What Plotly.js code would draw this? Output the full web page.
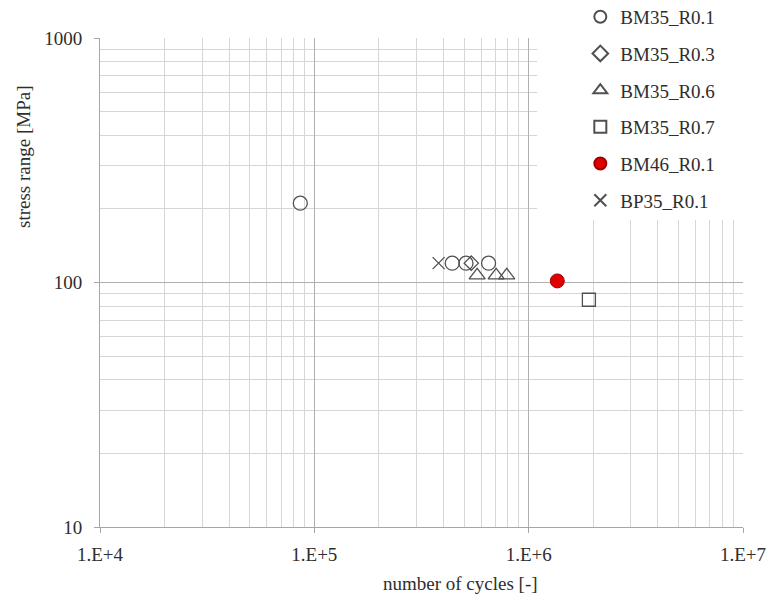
<!DOCTYPE html>
<html>
<head>
<meta charset="utf-8">
<script src="https://cdn.plot.ly/plotly-3.0.1.min.js"></script>
<style>
  html, body { margin: 0; padding: 0; background: #ffffff; }
  #chart { width: 769px; height: 601px; }
</style>
</head>
<body>
<div id="chart"></div>
<script>
// S-N test results: number of cycles to failure vs stress range
const seriesNames = ["BM35_R0.1", "BM35_R0.3", "BM35_R0.6", "BM35_R0.7", "BM46_R0.1", "BP35_R0.1"];

const bm35r01Cycles = [8.6e4, 4.4e5, 5.1e5, 6.5e5];
const bm35r01Stress = [211, 120, 120, 120];

const bm35r03Cycles = [5.4e5];
const bm35r03Stress = [120];

const bm35r06Cycles = [5.75e5, 7.05e5, 7.9e5];
const bm35r06Stress = [107, 107, 107];

const bm35r07Cycles = [1.91e6];
const bm35r07Stress = [85];

const bm46r01Cycles = [1.36e6];
const bm46r01Stress = [101.5];

const bp35r01Cycles = [3.8e5];
const bp35r01Stress = [120];

const xMajorVals = [1e4, 1e5, 1e6, 1e7];
const xMajorText = ["1.E+4", "1.E+5", "1.E+6", "1.E+7"];
const yMajorVals = [10, 100, 1000];
const yMajorText = ["10", "100", "1000"];

const xTitle = "number of cycles [-]";
const yTitle = "stress range [MPa]";

// minor gridlines at 2..9 of every decade
function minorVals(firstDecade, lastDecade) {
  const out = [];
  for (let d = firstDecade; d < lastDecade; d++) {
    for (let m = 2; m <= 9; m++) out.push(m * Math.pow(10, d));
  }
  return out;
}

const FONT = "Liberation Serif, Times New Roman, serif";
const TEXT = "#2e2e2e";
const EDGE = "#505050";

// open symbols take their stroke colour from marker.color
function openTrace(name, x, y, symbol, size) {
  return {
    type: "scatter", mode: "markers", name: name, legendgroup: name,
    x: x, y: y,
    marker: { symbol: symbol, size: size, color: EDGE,
              line: { color: EDGE, width: 1.3 } }
  };
}

const traces = [
  openTrace(seriesNames[0], bm35r01Cycles, bm35r01Stress, "circle-open", 14),
  openTrace(seriesNames[1], bm35r03Cycles, bm35r03Stress, "diamond-open", 11),
  openTrace(seriesNames[2], bm35r06Cycles, bm35r06Stress, "triangle-up-open", 14),
  openTrace(seriesNames[3], bm35r07Cycles, bm35r07Stress, "square-open", 13),
  {
    type: "scatter", mode: "markers", name: seriesNames[4], legendgroup: seriesNames[4],
    x: bm46r01Cycles, y: bm46r01Stress,
    marker: { symbol: "circle", size: 14, color: "#e00000",
              line: { color: "#a00000", width: 1 } }
  },
  openTrace(seriesNames[5], bp35r01Cycles, bp35r01Stress, "x-thin-open", 12)
];

const layout = {
  width: 769, height: 601,
  // fixed plot box; the legend sits in the top-right corner without pushing margins
  margin: { l: 100, r: 26, t: 38, b: 74, autoexpand: false },
  paper_bgcolor: "#ffffff", plot_bgcolor: "#ffffff",
  font: { family: FONT, size: 19, color: TEXT },
  showlegend: true,
  legend: {
    x: 0.747, xanchor: "left", y: 1.082, yanchor: "top",
    bgcolor: "#ffffff", borderwidth: 0, itemsizing: "constant",
    font: { family: FONT, size: 19, color: TEXT },
    tracegroupgap: 9, traceorder: "grouped"
  },
  xaxis: {
    type: "log", range: [4, 7],
    tickmode: "array", tickvals: xMajorVals, ticktext: xMajorText,
    ticks: "outside", ticklen: 5, tickcolor: "#a6a6a6",
    ticklabelstandoff: 5,
    showgrid: true, gridcolor: "#b0b0b0", gridwidth: 1,
    minor: { tickmode: "array", tickvals: minorVals(4, 7), showgrid: true,
             gridcolor: "#d6d6d6", gridwidth: 1, ticks: "" },
    showline: true, linecolor: "#a6a6a6", linewidth: 1,
    zeroline: false, tickfont: { family: FONT, size: 19, color: TEXT }
  },
  yaxis: {
    type: "log", range: [1, 3],
    tickmode: "array", tickvals: yMajorVals, ticktext: yMajorText,
    ticks: "outside", ticklen: 5, tickcolor: "#a6a6a6",
    ticklabelstandoff: 8,
    showgrid: true, gridcolor: "#b0b0b0", gridwidth: 1,
    minor: { tickmode: "array", tickvals: minorVals(1, 3), showgrid: true,
             gridcolor: "#d6d6d6", gridwidth: 1, ticks: "" },
    showline: true, linecolor: "#a6a6a6", linewidth: 1,
    zeroline: false, tickfont: { family: FONT, size: 19, color: TEXT }
  },
  // white panel behind the legend
  shapes: [{
    type: "rect", xref: "paper", yref: "paper", layer: "above",
    x0: 0.68, x1: 1.06, y0: 0.628, y1: 1.03,
    fillcolor: "#ffffff", line: { width: 0 }
  }],
  annotations: [
    { text: xTitle, xref: "paper", yref: "paper", x: 0.56, y: -0.116,
      xanchor: "center", yanchor: "middle", showarrow: false,
      font: { family: FONT, size: 19, color: TEXT } },
    { text: yTitle, xref: "paper", yref: "paper", x: -0.118, y: 0.757,
      xanchor: "center", yanchor: "middle", textangle: -90, showarrow: false,
      font: { family: FONT, size: 19, color: TEXT } }
  ]
};

Plotly.newPlot("chart", traces, layout, { displayModeBar: false, staticPlot: true });
</script>
</body>
</html>
